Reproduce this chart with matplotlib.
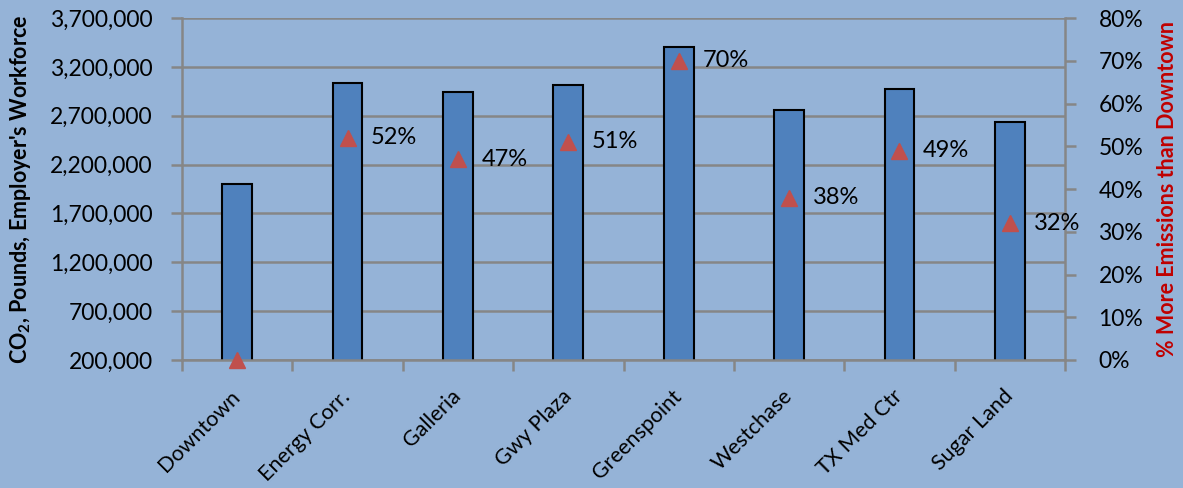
import numpy as np
import matplotlib
matplotlib.use("Agg")
import matplotlib.pyplot as plt

plt.rcParams["font.family"] = ["Lato", "DejaVu Sans"]
plt.rcParams["mathtext.fontset"] = "custom"
plt.rcParams["mathtext.rm"] = "Lato:bold"
plt.rcParams["mathtext.it"] = "Lato:bold"
plt.rcParams["mathtext.bf"] = "Lato:bold"

# Employer workforce CO2 by office location
sites = ["Downtown", "Energy Corr.", "Galleria", "Gwy Plaza",
         "Greenspoint", "Westchase", "TX Med Ctr", "Sugar Land"]
co2_lbs = [2000000, 3035000, 2943000, 3014000, 3403000, 2758000, 2973000, 2636000]
pct_more = [0, 52, 47, 51, 70, 38, 49, 32]

left_ticks = [200000, 700000, 1200000, 1700000, 2200000, 2700000, 3200000, 3700000]
right_ticks = [0, 10, 20, 30, 40, 50, 60, 70, 80]

BG = "#95b3d7"
GRID = "#868686"
BAR = "#4f81bd"
MARK = "#c0504d"
RED = "#c00000"
FS = 16.5

fig = plt.figure(figsize=(11.83, 4.88), dpi=100, facecolor=BG)
ax = fig.add_axes([0.1538, 0.2623, 0.7465, 0.7008])
ax.set_facecolor(BG)
x = np.arange(len(sites))

ax.bar(x, co2_lbs, width=0.27, color=BAR, edgecolor="black", linewidth=1.5, zorder=2)
ax.set_xlim(-0.5, len(sites) - 0.5)
ax.set_ylim(left_ticks[0], left_ticks[-1])
ax.set_yticks(left_ticks)
ax.set_yticklabels([f"{v:,}" for v in left_ticks], fontsize=FS)
ax.yaxis.grid(True, color=GRID, linewidth=1.8, zorder=1)
ax.set_axisbelow(True)

# category ticks sit between the bars
ax.set_xticks(np.arange(len(sites) + 1) - 0.5)
ax.set_xticklabels([])
ax.set_xticks(x, minor=True)
ax.set_xticklabels(sites, minor=True, rotation=45, ha="right", va="center",
                   rotation_mode="anchor", fontsize=15.5)
ax.tick_params(axis="x", which="minor", length=0, pad=24)
ax.tick_params(axis="x", which="major", length=8, width=1.8, color=GRID, direction="out")
ax.tick_params(axis="y", length=8, width=1.8, color=GRID, direction="out", pad=13)

for side in ["top", "right"]:
    ax.spines[side].set_visible(False)
for side in ["left", "bottom"]:
    ax.spines[side].set_color(GRID)
    ax.spines[side].set_linewidth(1.8)
    ax.spines[side].set_zorder(3)

ax.set_ylabel("CO$_2$, Pounds, Employer's Workforce", fontsize=15.5,
              fontweight="bold", labelpad=12)

ax2 = ax.twinx()
ax2.set_ylim(right_ticks[0], right_ticks[-1])
ax2.set_yticks(right_ticks)
ax2.set_yticklabels([f"{v}%" for v in right_ticks], fontsize=FS)
ax2.tick_params(axis="y", length=8, width=1.8, color=GRID, direction="out", pad=16)
for side in ["top", "left", "bottom"]:
    ax2.spines[side].set_visible(False)
ax2.spines["right"].set_color(GRID)
ax2.spines["right"].set_linewidth(1.8)

ax2.plot(x, pct_more, linestyle="none", marker="^", markersize=12,
         color=MARK, zorder=4, clip_on=False)
for xi, p in zip(x[1:], pct_more[1:]):
    ax2.annotate(f"{p}%", (xi, p), xytext=(17, 0), textcoords="offset points",
                 fontsize=17, va="center", ha="left")

ax2.set_ylabel("% More Emissions than Downtown", fontsize=15.5, fontweight="bold",
               color=RED, labelpad=10)

fig.savefig("out.png", dpi=100, facecolor=BG)
